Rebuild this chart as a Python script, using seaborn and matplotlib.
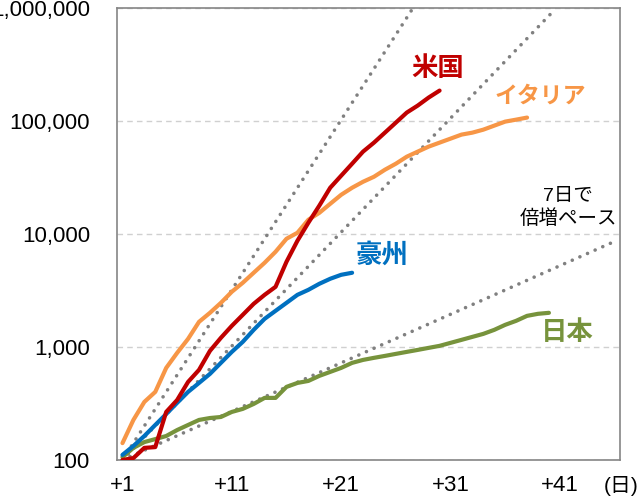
import numpy as np
import pandas as pd
import matplotlib
matplotlib.use("Agg")
import matplotlib.pyplot as plt
import seaborn as sns
from matplotlib.ticker import FixedLocator, FixedFormatter, NullLocator

# ---- data (cumulative cases by day since 100th case) ----
us = [100, 104, 128, 130, 266, 339, 490, 626, 922, 1202, 1534, 1919, 2402, 2884,
      3396, 5652, 8670, 12510, 17700, 25530, 32600, 41600, 53200, 63900, 78300,
      96000, 117800, 135800, 159900, 184300]
italy = [141, 226, 326, 400, 652, 885, 1177, 1664, 2000, 2450, 3070, 3685, 4520,
         5540, 6930, 9030, 10200, 13300, 15300, 18400, 22100, 25500, 28800, 31900,
         36800, 41600, 48000, 53200, 58900, 63900, 69300, 75200, 78300, 83200,
         90300, 98000, 102000, 106400]
australia = [111, 133, 163, 204, 255, 320, 400, 480, 577, 722, 903, 1107, 1414,
             1770, 2083, 2450, 2884, 3193, 3610, 4000, 4336, 4520]
japan = [106, 128, 144, 153, 163, 184, 204, 226, 235, 240, 266, 283, 313, 354, 354,
         443, 480, 500, 554, 601, 652, 722, 767, 800, 832, 867, 903, 940, 980, 1021,
         1085, 1153, 1226, 1303, 1414, 1566, 1699, 1880, 1960, 2000]

series_names = ["日本", "豪州", "イタリア", "米国"]
series_values = [japan, australia, italy, us]
series_colors = ["#77933C", "#0070C0", "#F79646", "#C00000"]

# doubling-pace guide lines (start / end points)
ref_start_day = [1, 1, 1]
ref_start_val = [100, 100, 100]
ref_end_day = [27.6, 40.5, 45.7]
ref_end_val = [1000000, 950000, 8300]

x_tick_days = [1, 11, 21, 31, 41]
x_tick_labels = ["+1", "+11", "+21", "+31", "+41"]
y_ticks = [100, 1000, 10000, 100000, 1000000]
y_tick_labels = ["100", "1,000", "10,000", "100,000", "1,000,000"]

# ---- plotting ----
sns.set_theme(style="white")
plt.rcParams['font.family'] = ['Liberation Sans', 'Noto Sans CJK JP']

W, H = 640, 499
fig = plt.figure(figsize=(W / 100, H / 100), dpi=100)
ax = fig.add_axes([117 / W, 1 - 460 / H, (620 - 117) / W, (460 - 7.5) / H])

for sd, sv, ed, ev in zip(ref_start_day, ref_start_val, ref_end_day, ref_end_val):
    sns.lineplot(x=[sd, ed], y=[sv, ev], ax=ax, color="#808080", lw=2.6,
                 linestyle=(0, (0.01, 2.3)), dash_capstyle="round", zorder=2)

for name, vals, col in zip(series_names, series_values, series_colors):
    df = pd.DataFrame({"day": np.arange(1, len(vals) + 1), "cases": vals})
    sns.lineplot(data=df, x="day", y="cases", ax=ax, color=col, lw=3.0,
                 solid_capstyle="round", solid_joinstyle="round", zorder=3)

ax.set_yscale("log")
ax.set_ylim(100, 1000000)
ax.set_xlim(0.5, 46.5)
ax.set_xlabel("")
ax.set_ylabel("")

ax.yaxis.set_major_locator(FixedLocator(y_ticks))
ax.yaxis.set_major_formatter(FixedFormatter(y_tick_labels))
ax.yaxis.set_minor_locator(NullLocator())
ax.xaxis.set_major_locator(FixedLocator(x_tick_days))
ax.xaxis.set_major_formatter(FixedFormatter(x_tick_labels))
ax.xaxis.set_minor_locator(FixedLocator([10.5, 20.5, 30.5, 40.5]))

ax.tick_params(axis="y", which="major", length=0, pad=19.5, labelsize=16, labelcolor="#000000")
ax.tick_params(axis="x", which="major", length=0, pad=10.5, labelsize=16, labelcolor="#000000")
ax.tick_params(axis="x", which="minor", direction="in", length=5, width=1.0, color="#808080")

ax.grid(axis="y", which="major", color="#D0D0D0", lw=1.0, linestyle=(0, (4, 3)))
ax.grid(axis="x", visible=False)
for sp in ax.spines.values():
    sp.set_visible(True)
    sp.set_color("#858585")
    sp.set_linewidth(1.2)

def fx(px):
    return px / W

def fy(py):
    return 1 - py / H

cjk = ['Noto Sans CJK JP']
fig.text(fx(438), fy(68), "米国", color="#C00000", fontsize=19, fontweight="bold",
         family=cjk, ha="center", va="center")
fig.text(fx(540), fy(96), "イタリア", color="#F79646", fontsize=16.5, fontweight="bold",
         family=cjk, ha="center", va="center")
fig.text(fx(382), fy(255), "豪州", color="#0070C0", fontsize=19, fontweight="bold",
         family=cjk, ha="center", va="center")
fig.text(fx(567), fy(333), "日本", color="#77933C", fontsize=19, fontweight="bold",
         family=cjk, ha="center", va="center")
fig.text(fx(568), fy(208), "7日で\n倍増ペース", color="#000000", fontsize=14,
         family=['Liberation Sans', 'Noto Sans CJK JP'], ha="center", va="center",
         linespacing=1.35)
fig.text(fx(402), fy(2), "2日で", color="#000000", fontsize=14,
         family=['Liberation Sans', 'Noto Sans CJK JP'], ha="center", va="bottom")
fig.text(fx(621), fy(486), "(日)", color="#000000", fontsize=15,
         family=['Liberation Sans', 'Noto Sans CJK JP'], ha="center", va="center")

fig.savefig("out.png", dpi=100, facecolor="white")
